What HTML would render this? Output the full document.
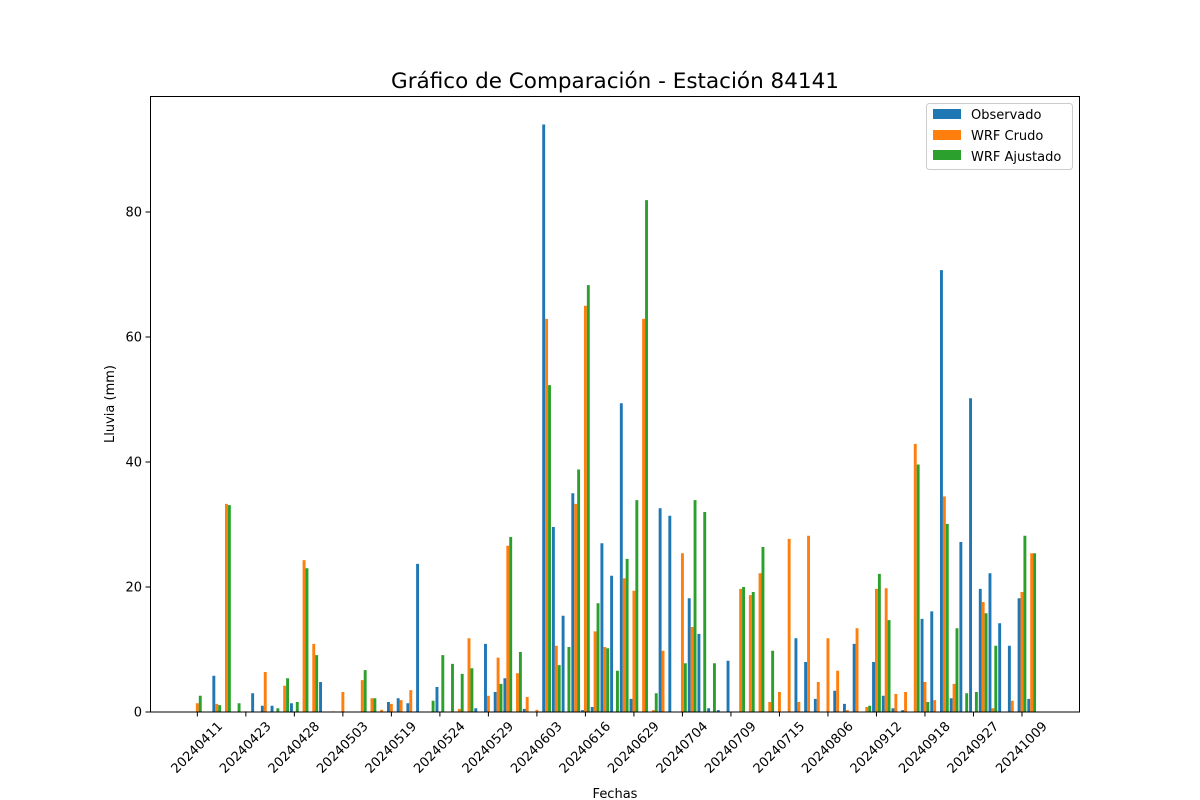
<!DOCTYPE html>
<html><head><meta charset="utf-8"><style>
html,body{margin:0;padding:0;background:#fff;}
svg{display:block;font-family:"DejaVu Sans","Liberation Sans",sans-serif;}
</style></head><body>
<svg id="chart" width="1200" height="800" viewBox="0 0 1200 800" xmlns="http://www.w3.org/2000/svg">
<rect x="0" y="0" width="1200" height="800" fill="#fff"/>
<text x="615" y="88" font-size="21.5" text-anchor="middle" fill="#000">Gráfico de Comparación - Estación 84141</text>
<g id="bars"></g>
<g id="xticks"></g>
<g id="yticks"></g>
<rect x="150.5" y="96.5" width="929" height="615.5" fill="none" stroke="#000" stroke-width="1"/>
<text x="615" y="798" font-size="13" text-anchor="middle">Fechas</text>
<text x="0" y="0" font-size="13" text-anchor="middle" transform="translate(114,404) rotate(-90)">Lluvia (mm)</text>
<g>
<rect x="926.5" y="103.5" width="146" height="66" fill="#fff" fill-opacity="0.8" stroke="#ccc" rx="3"/>
<g><rect x="933" y="109" width="28" height="10" fill="#1f77b4"/><text x="971" y="119" font-size="13">Observado</text></g>
<g><rect x="933" y="130" width="28" height="10" fill="#ff7f0e"/><text x="971" y="140" font-size="13">WRF Crudo</text></g>
<g><rect x="933" y="150" width="28" height="10" fill="#2ca02c"/><text x="971" y="161" font-size="13">WRF Ajustado</text></g>
</g>
</svg>
<script>
const observado = [0,0,5.8,0,0,0,3.0,1.0,1.0,0,1.4,0,0,4.8,0,0,0,0,0,0,1.6,2.2,1.4,23.7,0,4.0,0,0,0,0.6,10.9,3.2,5.4,0,0.5,0,94,29.6,15.4,35.0,0.3,0.8,27.0,21.8,49.4,2.1,0,0,32.6,31.4,0,18.2,12.5,0.6,0.3,8.2,0,0,0,0,0,0,11.8,8.0,2.1,0,3.4,1.3,10.9,0,8.0,2.6,0.6,0.3,0,14.9,16.1,70.7,2.2,27.2,50.2,19.7,22.2,14.2,10.6,18.2,2.1];
const wrfCrudo = [1.4,0,1.3,33.3,0,0.1,0,6.4,0,4.2,0.1,24.3,10.9,0,0.1,3.2,0,5.1,2.2,0.35,1.3,1.9,3.5,0,0,0,0,0.5,11.8,0,2.6,8.7,26.6,6.2,2.4,0.35,62.9,10.6,0,33.3,65.0,12.9,10.4,0,21.4,19.4,62.9,0.3,9.8,0,25.4,13.6,0,0,0,0,19.7,18.7,22.2,1.6,3.2,27.7,1.6,28.2,4.8,11.8,6.6,0.3,13.4,0.8,19.7,19.8,2.9,3.2,42.9,4.8,1.9,34.5,4.5,0,0,17.6,0.6,0,1.8,19.2,25.4];
const wrfAjustado = [2.6,0,1.1,33.1,1.4,0,0,0,0.6,5.4,1.6,23.0,9.1,0,0,0,0,6.7,2.2,0,0,0,0,0,1.8,9.1,7.7,6.1,7.0,0,0,4.5,28.0,9.6,0,0,52.3,7.5,10.4,38.8,68.3,17.4,10.2,6.6,24.5,33.9,81.9,3.0,0,0,7.8,33.9,32.0,7.8,0,0,20.0,19.2,26.4,9.8,0,0,0,0,0,0,0,0,0,1.0,22.1,14.7,0,0,39.6,1.6,0,30.1,13.4,3.0,3.2,15.8,10.6,0,0,28.2,25.4];
const tickLabels = ["20240411","20240423","20240428","20240503","20240519","20240524","20240529","20240603","20240616","20240629","20240704","20240709","20240715","20240806","20240912","20240918","20240927","20241009"];
const yTicks = [0,20,40,60,80];

const NS = "http://www.w3.org/2000/svg";
const X0 = 150, X1 = 1080, XMIN = -4.88, XMAX = 90.98;
const Y0 = 712, Y1 = 96, YMIN = 0, YMAX = 98.56;
function xs(v){ return X0 + (v - XMIN) / (XMAX - XMIN) * (X1 - X0); }
function ys(v){ return Y0 - (v - YMIN) / (YMAX - YMIN) * (Y0 - Y1); }
const W = 0.3;
const series = [
  {vals: observado, color: "#1f77b4", off: -W, name: "observado"},
  {vals: wrfCrudo, color: "#ff7f0e", off: 0, name: "wrf-crudo"},
  {vals: wrfAjustado, color: "#2ca02c", off: W, name: "wrf-ajustado"}
];
const bars = document.getElementById("bars");
series.forEach(s => {
  s.vals.forEach((v, i) => {
    if (v <= 0) return;
    const r = document.createElementNS(NS, "rect");
    const xl = xs(i + s.off - W/2), xr = xs(i + s.off + W/2);
    r.setAttribute("x", xl);
    r.setAttribute("width", xr - xl);
    r.setAttribute("y", ys(v));
    r.setAttribute("height", ys(0) - ys(v));
    r.setAttribute("fill", s.color);
    
    
    bars.appendChild(r);
  });
});
const xt = document.getElementById("xticks");
tickLabels.forEach((lab, k) => {
  const x = xs(k * 5);
  const l = document.createElementNS(NS, "line");
  l.setAttribute("x1", x); l.setAttribute("x2", x);
  l.setAttribute("y1", 712); l.setAttribute("y2", 716.5);
  l.setAttribute("stroke", "#000");
  
  
  xt.appendChild(l);
  const t = document.createElementNS(NS, "text");
  t.textContent = lab;
  t.setAttribute("x", 0); t.setAttribute("y", 0);
  t.setAttribute("font-size", "13");
  t.setAttribute("text-anchor", "middle");
  t.setAttribute("dominant-baseline", "central");
  t.setAttribute("transform", "translate(" + x + ",748) rotate(-45)");
  
  
  xt.appendChild(t);
});
const yt = document.getElementById("yticks");
yTicks.forEach(v => {
  const y = ys(v);
  const l = document.createElementNS(NS, "line");
  l.setAttribute("x1", 145.5); l.setAttribute("x2", 150);
  l.setAttribute("y1", y); l.setAttribute("y2", y);
  l.setAttribute("stroke", "#000");
  
  
  yt.appendChild(l);
  const t = document.createElementNS(NS, "text");
  t.textContent = String(v);
  t.setAttribute("x", 142); t.setAttribute("y", y + 4.5);
  t.setAttribute("font-size", "13");
  t.setAttribute("text-anchor", "end");
  
  
  yt.appendChild(t);
});
</script>
</body></html>
